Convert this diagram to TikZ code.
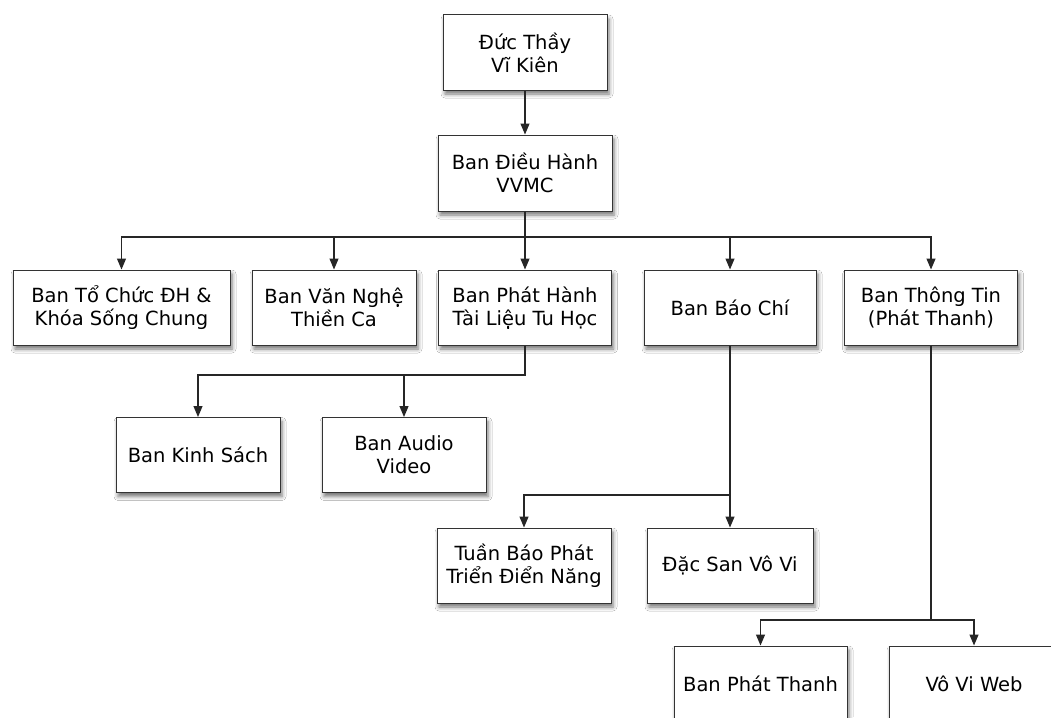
\documentclass[tikz,border=0pt]{standalone}
\usepackage{fontspec}
\setmainfont{DejaVu Sans}
\usetikzlibrary{arrows.meta,shadows.blur}
\tikzset{
  box/.style={draw=black!80, line width=1pt, fill=white, inner sep=0pt, align=center,
    minimum height=75pt, font=\fontsize{19.5}{23}\selectfont,
    blur shadow={shadow xshift=2pt, shadow yshift=-4pt, shadow blur radius=4pt, shadow opacity=55}},
  arr/.style={draw=black!85, line width=1.2pt, -{Triangle[length=11pt,width=9pt]}},
  ln/.style={draw=black!85, line width=1.2pt}
}
\begin{document}
\begin{tikzpicture}[x=1pt,y=-1pt]
\useasboundingbox (0,0) rectangle (1051,717);
\clip (0,0) rectangle (1051,717);
\fill[white] (0,0) rectangle (1051,717);
% nodes
\node[box, minimum width=164pt] (t) at (525,52.5) {Đức Thầy\\Vĩ Kiên};
\node[box, minimum width=174pt, minimum height=76pt] (v) at (525,173) {Ban Điều Hành\\VVMC};
\node[box, minimum width=217pt] (a) at (121.5,307.5) {Ban Tổ Chức ĐH \&\\Khóa Sống Chung};
\node[box, minimum width=164pt] (b) at (334,307.5) {Ban Văn Nghệ\\Thiền Ca};
\node[box, minimum width=173pt] (c) at (525,307.5) {Ban Phát Hành\\Tài Liệu Tu Học};
\node[box, minimum width=172pt] (d) at (730,307.5) {Ban Báo Chí};
\node[box, minimum width=173pt] (e) at (931,307.5) {Ban Thông Tin\\(Phát Thanh)};
\node[box, minimum width=164pt] (ks) at (198,455) {Ban Kinh Sách};
\node[box, minimum width=164pt] (av) at (404,455) {Ban Audio\\Video};
\node[box, minimum width=174pt] (tb) at (524,565.5) {Tuần Báo Phát\\Triển Điển Năng};
\node[box, minimum width=166pt] (ds) at (730,565.5) {Đặc San Vô Vi};
\node[box, minimum width=173pt] (pt) at (760.5,683.5) {Ban Phát Thanh};
\node[box, minimum width=170pt] (web) at (974,683.5) {Vô Vi Web};
% junctions
\coordinate (j1) at (525,237);
\coordinate (j2) at (525,375);
\coordinate (j3) at (730,495);
\coordinate (j4) at (931,620);
% connectors
\draw[arr] (t) -- (v);
\draw[arr] (v.south) -- (c.north);
\draw[arr] (v.south) -- (j1) -| (a.north);
\draw[arr] (v.south) -- (j1) -| (b.north);
\draw[arr] (v.south) -- (j1) -| (d.north);
\draw[arr] (v.south) -- (j1) -| (e.north);
\draw[arr] (c.south) -- (j2) -| (ks.north);
\draw[arr] (c.south) -- (j2) -| (av.north);
\draw[arr] (d.south) -- (ds.north);
\draw[arr] (d.south) -- (j3) -| (tb.north);
\draw[arr] (e.south) -- (j4) -| (pt.north);
\draw[arr] (e.south) -- (j4) -| (web.north);
\end{tikzpicture}
\end{document}
